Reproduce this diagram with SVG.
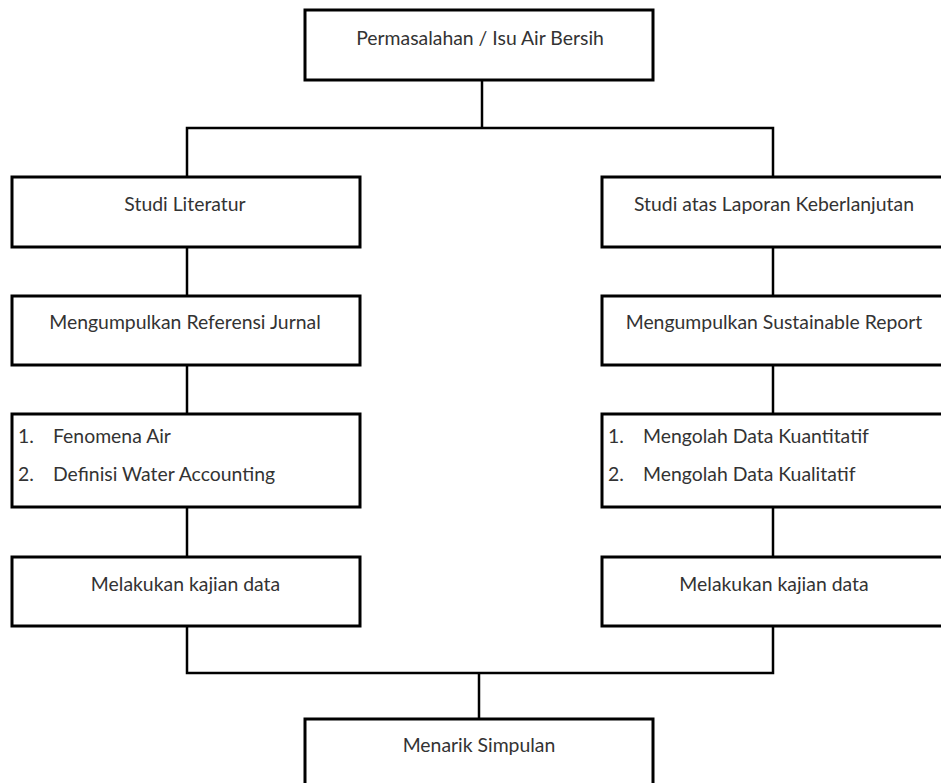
<svg xmlns="http://www.w3.org/2000/svg" width="941" height="783" viewBox="0 0 941 783">
<style>
.box{fill:#fff;stroke:#000;stroke-width:3}
.t{font-family:Lato,"Open Sans",sans-serif;font-size:19.4px;fill:#333}
.c{text-anchor:middle}
.con{fill:none;stroke:#000;stroke-width:2.5}
</style>
<rect width="941" height="783" fill="#fff"/>
<g id="connectors">
<polyline class="con" points="482,80 482,128"/>
<polyline class="con" points="187,177 187,128 773,128 773,177"/>
<line class="con" x1="187" y1="247" x2="187" y2="296"/>
<line class="con" x1="187" y1="365" x2="187" y2="414"/>
<line class="con" x1="187" y1="507" x2="187" y2="557"/>
<line class="con" x1="773" y1="247" x2="773" y2="296"/>
<line class="con" x1="773" y1="365" x2="773" y2="414"/>
<line class="con" x1="773" y1="507" x2="773" y2="557"/>
<polyline class="con" points="187,626 187,673 773,673 773,626"/>
<line class="con" x1="479" y1="673" x2="479" y2="719"/>
</g>
<g id="n-top"><rect class="box" x="305" y="10" width="348" height="70"/><text class="t c" x="480" y="44.5">Permasalahan / Isu Air Bersih</text></g>
<g id="n-studi-lit"><rect class="box" x="12" y="177" width="348" height="70"/><text class="t c" x="185" y="211">Studi Literatur</text></g>
<g id="n-studi-lap"><rect class="box" x="602" y="177" width="344" height="70"/><text class="t c" x="774" y="211">Studi atas Laporan Keberlanjutan</text></g>
<g id="n-ref"><rect class="box" x="12" y="296" width="348" height="69"/><text class="t c" x="185" y="329">Mengumpulkan Referensi Jurnal</text></g>
<g id="n-sr"><rect class="box" x="602" y="296" width="344" height="69"/><text class="t c" x="774" y="329">Mengumpulkan Sustainable Report</text></g>
<g id="n-list-l"><rect class="box" x="12" y="414" width="348" height="93"/>
<text class="t" x="18" y="443">1.</text><text class="t" x="53" y="443">Fenomena Air</text>
<text class="t" x="18" y="481">2.</text><text class="t" x="53" y="481">Definisi Water Accounting</text></g>
<g id="n-list-r"><rect class="box" x="602" y="414" width="344" height="93"/>
<text class="t" x="608" y="443">1.</text><text class="t" x="643" y="443">Mengolah Data Kuantitatif</text>
<text class="t" x="608" y="481">2.</text><text class="t" x="643" y="481">Mengolah Data Kualitatif</text></g>
<g id="n-kaji-l"><rect class="box" x="12" y="557" width="348" height="69"/><text class="t c" x="185.5" y="591">Melakukan kajian data</text></g>
<g id="n-kaji-r"><rect class="box" x="602" y="557" width="344" height="69"/><text class="t c" x="774" y="591">Melakukan kajian data</text></g>
<g id="n-simpulan"><rect class="box" x="305" y="719" width="348" height="70"/><text class="t c" x="479" y="752">Menarik Simpulan</text></g>
</svg>
